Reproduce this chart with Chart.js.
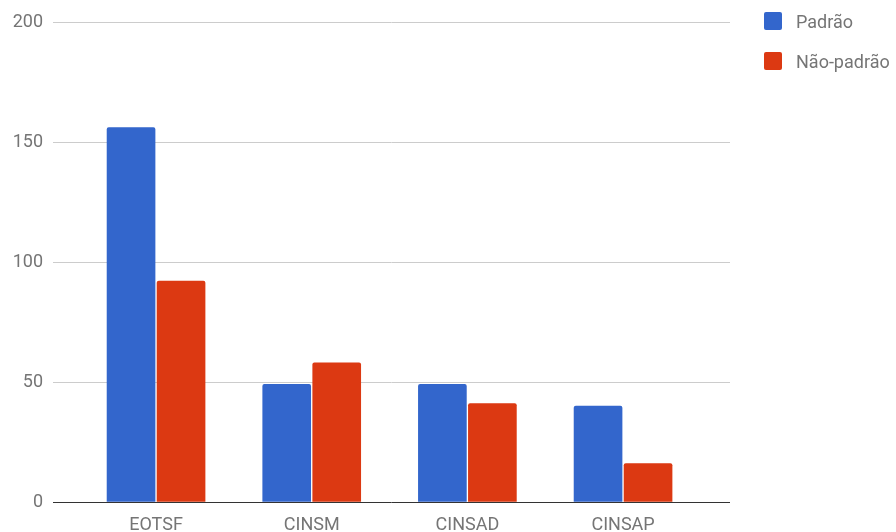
<!DOCTYPE html>
<html>
<head>
<meta charset="utf-8">
<script src="https://cdn.jsdelivr.net/npm/chart.js@4/dist/chart.umd.min.js"></script>
<style>
  body { margin: 0; background: #fff; }
  #wrap { position: relative; width: 896px; height: 532px; }
  #legend { position: absolute; left: 764px; top: 12px; font-family: Roboto, sans-serif; font-size: 18px; color: #757575; }
  .item { display: flex; align-items: center; height: 18px; margin-bottom: 22px; }
  .box { width: 18px; height: 18px; border-radius: 2px; margin-right: 14px; }
</style>
</head>
<body>
<div id="wrap">
  <canvas id="chart"></canvas>
  <div id="legend"></div>
</div>
<script>
// dados
const categorias = ['EOTSF', 'CINSM', 'CINSAD', 'CINSAP'];
const padrao = [156, 49, 49, 40];
const naoPadrao = [92, 58, 41, 16];
const yTicks = [0, 50, 100, 150, 200];

const cores = ['#3366cc', '#dc3912'];
const nomes = ['Padrão', 'Não-padrão'];

const toPoints = arr => arr.map((v, i) => ({ x: i, y: v }));

const ctx = document.getElementById('chart').getContext('2d');
const chart = new Chart(ctx, {
    type: 'bar',
    data: {
        datasets: [
            { label: nomes[0], data: toPoints(padrao), backgroundColor: cores[0] },
            { label: nomes[1], data: toPoints(naoPadrao), backgroundColor: cores[1] }
        ]
    },
    options: {
        responsive: true,
        maintainAspectRatio: false,
        animation: false,
        barThickness: 50,
        maxBarThickness: 48,
        borderRadius: 2,
        layout: { padding: { left: 13, right: 166, top: 22, bottom: 0 } },
        plugins: { legend: { display: false }, tooltip: { enabled: false } },
        scales: {
            x: {
                type: 'linear',
                offset: false,
                min: -0.662,
                max: 3.687,
                grid: { display: false, drawTicks: false },
                border: { display: false },
                afterFit: s => { s.height = 30; },
                ticks: {
                    stepSize: 1,
                    includeBounds: false,
                    maxRotation: 0,
                    minRotation: 0,
                    padding: 13,
                    color: '#757575',
                    font: { family: 'Roboto', size: 18 },
                    callback: v => Number.isInteger(v) ? categorias[v] : ''
                }
            },
            y: {
                min: yTicks[0],
                max: yTicks[yTicks.length - 1],
                border: { display: false },
                afterFit: s => { s.width = 40; },
                grid: {
                    drawTicks: false,
                    color: c => c.tick.value === 0 ? '#333333' : '#cccccc'
                },
                ticks: {
                    stepSize: 50,
                    padding: 10,
                    color: '#757575',
                    font: { family: 'Roboto', size: 18 }
                }
            }
        }
    }
});

// legenda
const legend = document.getElementById('legend');
chart.data.datasets.forEach(ds => {
    const item = document.createElement('div');
    item.className = 'item';
    item.innerHTML = `<span class="box" style="background:${ds.backgroundColor}"></span><span>${ds.label}</span>`;
    legend.appendChild(item);
});
</script>
</body>
</html>
